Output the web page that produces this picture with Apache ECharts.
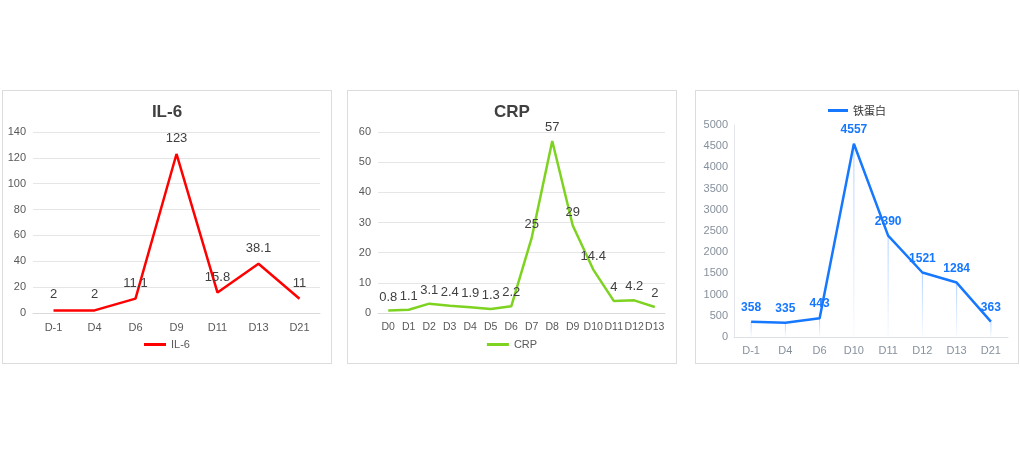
<!DOCTYPE html>
<html><head><meta charset="utf-8">
<script src="https://cdn.jsdelivr.net/npm/echarts@6/dist/echarts.min.js"></script>
<style>
html,body{margin:0;padding:0;background:#fff;width:1020px;height:456px;overflow:hidden}
.p{position:absolute;box-sizing:border-box;border:1px solid #dcdcdc;background:#fff}
</style></head><body>
<div id="c1" class="p" style="left:2px;top:90px;width:330px;height:274px"></div>
<div id="c2" class="p" style="left:347px;top:90px;width:330px;height:274px"></div>
<div id="c3" class="p" style="left:695px;top:90px;width:324px;height:274px"></div>
<script>
const il6Days = ['D-1','D4','D6','D9','D11','D13','D21'];
const il6Values = [2, 2, 11.1, 123, 15.8, 38.1, 11];
const crpDays = ['D0','D1','D2','D3','D4','D5','D6','D7','D8','D9','D10','D11','D12','D13'];
const crpValues = [0.8, 1.1, 3.1, 2.4, 1.9, 1.3, 2.2, 25, 57, 29, 14.4, 4, 4.2, 2];
const ferDays = ['D-1','D4','D6','D10','D11','D12','D13','D21'];
const ferValues = [358, 335, 443, 4557, 2390, 1521, 1284, 363];

const FONT = 'Liberation Sans, Arial, sans-serif';

function excelChart(id, title, cats, vals, color, max, interval, labelDist, xFont) {
  const ch = echarts.init(document.getElementById(id));
  ch.setOption({
    animation: false,
    textStyle: {fontFamily: FONT},
    title: {text: title, left: 'center', top: 8,
      textStyle: {fontSize: 17, fontWeight: 'bold', color: '#404040', fontFamily: FONT}},
    legend: {bottom: 8, left: 'center', itemWidth: 22, itemHeight: 3, icon: 'rect', itemGap: 5,
      textStyle: {fontSize: 11, color: '#595959', fontFamily: FONT}, data: [title]},
    grid: {left: 30, right: 11, top: 41, bottom: 50},
    xAxis: {type: 'category', data: cats, boundaryGap: true,
      axisLine: {lineStyle: {color: '#d9d9d9'}}, axisTick: {show: false},
      axisLabel: {color: '#595959', fontSize: xFont, margin: 9, interval: 0}},
    yAxis: {type: 'value', min: 0, max: max, interval: interval,
      axisLine: {show: false}, axisTick: {show: false},
      axisLabel: {color: '#595959', fontSize: 11, margin: 7},
      splitLine: {lineStyle: {color: '#e6e6e6'}}},
    series: [{name: title, type: 'line', data: vals, symbol: 'circle', symbolSize: 0.1, showSymbol: true,
      lineStyle: {color: color, width: 2.5}, itemStyle: {color: color},
      label: {show: true, position: 'top', distance: labelDist, color: '#404040', fontSize: 13, fontFamily: FONT}}]
  });
}
excelChart('c1', 'IL-6', il6Days, il6Values, '#ff0000', 140, 20, 9, 11);
excelChart('c2', 'CRP', crpDays, crpValues, '#7ed321', 60, 10, 7, 10.5);

const ch3 = echarts.init(document.getElementById('c3'));
ch3.setOption({
  animation: false,
  textStyle: {fontFamily: FONT},
  legend: {top: 9, left: 'center', itemWidth: 20, itemHeight: 3, icon: 'rect', itemGap: 5,
    textStyle: {fontSize: 11, color: '#333', fontFamily: 'Noto Sans CJK SC, sans-serif'}, data: ['铁蛋白']},
  grid: {left: 38, right: 10, top: 34, bottom: 26},
  xAxis: {type: 'category', data: ferDays, boundaryGap: true,
    axisLine: {lineStyle: {color: '#dde1e6'}}, axisTick: {show: false},
    axisLabel: {color: '#86909c', fontSize: 11, margin: 8, interval: 0}},
  yAxis: {type: 'value', min: 0, max: 5000, interval: 500,
    axisLine: {show: true, lineStyle: {color: '#e5e6eb'}}, axisTick: {show: false},
    axisLabel: {color: '#86909c', fontSize: 11, margin: 6, formatter: v => String(v)},
    splitLine: {show: false}},
  series: [
    {name: 'drop', type: 'bar', data: ferValues, barWidth: 1, silent: true,
      itemStyle: {color: new echarts.graphic.LinearGradient(0, 0, 0, 1, [
        {offset: 0, color: 'rgba(22,119,255,0.35)'}, {offset: 1, color: 'rgba(22,119,255,0.03)'}])}},
    {name: '铁蛋白', type: 'line', data: ferValues, symbol: 'circle', symbolSize: 0.1, showSymbol: true,
      lineStyle: {color: '#1677ff', width: 2.5}, itemStyle: {color: '#1677ff'},
      label: {show: true, position: 'top', distance: 8, color: '#1677ff', fontSize: 12, fontWeight: 'bold', fontFamily: FONT}}
  ]
});
</script>
</body></html>
